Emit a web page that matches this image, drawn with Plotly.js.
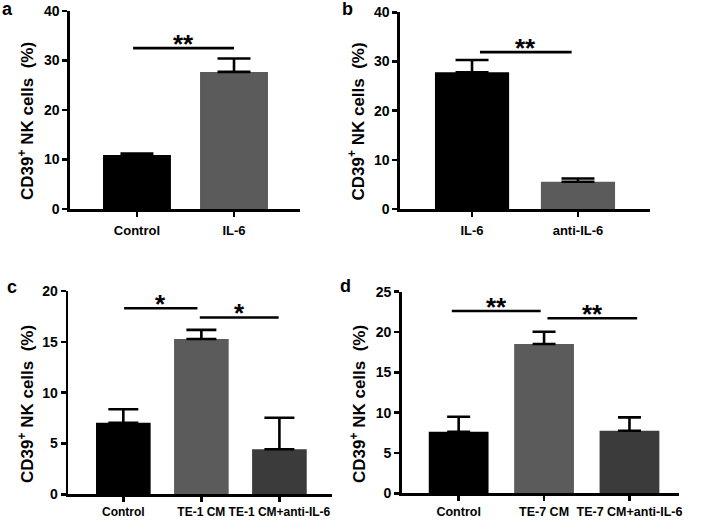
<!DOCTYPE html>
<html>
<head>
<meta charset="utf-8">
<script src="https://cdn.plot.ly/plotly-3.0.1.min.js"></script>
<style>html,body{margin:0;padding:0;background:#fff;}#chart{width:710px;height:521px;}</style>
</head>
<body>
<div id="chart"></div>
<script>
// ---- data ----
const catsA = ['Control', 'IL-6'];
const meanA = [10.9, 27.7];
const errA  = [0.3, 2.7];

const catsB = ['IL-6', 'anti-IL-6'];
const meanB = [27.8, 5.55];
const errB  = [2.5, 0.65];

const catsC = ['Control', 'TE-1 CM', 'TE-1 CM+anti-IL-6'];
const meanC = [7.04, 15.28, 4.43];
const errC  = [1.32, 0.9, 3.1];

const catsD = ['Control', 'TE-7 CM', 'TE-7 CM+anti-IL-6'];
const meanD = [7.64, 18.51, 7.76];
const errD  = [1.86, 1.53, 1.66];

// significance brackets: [fromIndex, toIndex, level, label]
const sigA = [[-0.04, 1.0, 32.5, '**']];
const sigB = [[0.075, 0.94, 31.9, '**']];
const sigC = [[0.01, 0.95, 18.3, '*'], [0.98, 1.99, 17.4, '*']];
const sigD = [[-0.08, 0.96, 22.6, '**'], [1.04, 2.09, 21.7, '**']];

const yTitle = 'CD39<sup>+</sup> NK cells\u00a0\u00a0(%)';
const panelLabels = ['a', 'b', 'c', 'd'];

// ---- styling ----
const FONT = 'Liberation Sans, Arial, sans-serif';
const c2 = ['#000000', '#5b5b5b'];
const c3 = ['#000000', '#5b5b5b', '#3b3b3b'];

function barTrace(cats, vals, errs, colors, ax, capw) {
  return {
    type: 'bar', x: cats, y: vals,
    xaxis: 'x' + ax, yaxis: 'y' + ax,
    marker: {color: colors, line: {width: 0}},
    width: 0.7,
    error_y: {type: 'data', symmetric: false, array: errs, arrayminus: errs.map(() => 0),
              color: '#000', thickness: 2.6, width: capw},
    hoverinfo: 'skip', showlegend: false
  };
}

const data = [
  barTrace(catsA, meanA, errA, c2, '', 16.5),
  barTrace(catsB, meanB, errB, c2, '2', 16.5),
  barTrace(catsC, meanC, errC, c3, '3', 15),
  barTrace(catsD, meanD, errD, c3, '4', 11.5)
];

const W = 710, H = 521;
function xd(l, r) { return [l / W, r / W]; }
function yd(bottom, top) { return [1 - bottom / H, 1 - top / H]; }

function xax(dom, range, anchor, fs, standoff) {
  return {domain: dom, range: range, type: 'category', anchor: anchor, tickangle: 0,
    showline: true, linewidth: 2.6, linecolor: '#000', ticks: 'outside', ticklen: 5,
    tickwidth: 2.5, tickcolor: '#000', showgrid: false, zeroline: false, fixedrange: true,
    ticklabelstandoff: standoff,
    tickfont: {family: FONT, size: fs, color: '#000', weight: 'bold'}};
}
function yax(dom, range, dtick, anchor) {
  return {domain: dom, range: range, dtick: dtick, anchor: anchor,
    showline: true, linewidth: 2.6, linecolor: '#000', ticks: 'outside', ticklen: 5,
    tickwidth: 2.5, tickcolor: '#000', showgrid: false, zeroline: false, fixedrange: true,
    tickfont: {family: FONT, size: 14, color: '#000', weight: 'bold'}};
}

const layout = {
  width: W, height: H,
  margin: {l: 0, r: 0, t: 0, b: 0},
  paper_bgcolor: '#fff', plot_bgcolor: '#fff',
  font: {family: FONT, color: '#000'},
  bargap: 0.3,
  xaxis:  xax(xd(70, 300),    [-0.69, 1.68], 'y', 13, 3),
  yaxis:  yax(yd(209, 11),    [0, 40], 10, 'x'),
  xaxis2: xax(xd(400, 650),   [-0.68, 1.68], 'y2', 13, 3),
  yaxis2: yax(yd(209, 12.3),  [0, 40], 10, 'x2'),
  xaxis3: xax(xd(68.3, 331.7),[-0.705, 2.67], 'y3', 12, 0),
  yaxis3: yax(yd(494.3, 291), [0, 20], 5, 'x3'),
  xaxis4: xax(xd(401.7, 679), [-0.667, 2.58], 'y4', 12.5, 0),
  yaxis4: yax(yd(493.3, 291.7),[0, 25], 5, 'x4'),
  shapes: [],
  annotations: []
};

const sigs = [sigA, sigB, sigC, sigD];
const axs = ['', '2', '3', '4'];
sigs.forEach((list, i) => {
  list.forEach(s => {
    layout.shapes.push({type: 'line', xref: 'x' + axs[i], yref: 'y' + axs[i],
      x0: s[0], x1: s[1], y0: s[2], y1: s[2], line: {color: '#000', width: 2.6}});
    layout.annotations.push({xref: 'x' + axs[i], yref: 'y' + axs[i], x: (s[0] + s[1]) / 2, y: s[2],
      text: s[3], showarrow: false, yanchor: 'bottom', yshift: -13,
      font: {family: FONT, size: 26, color: '#000', weight: 'bold'}});
  });
});

// y-axis titles (as rotated text beside each axis)
const titlePos = [[25.5, 121.5], [356, 121.5], [26, 404], [358, 404]];
titlePos.forEach(p => {
  layout.annotations.push({xref: 'paper', yref: 'paper', x: p[0] / W, y: 1 - p[1] / H,
    text: yTitle, textangle: -90, showarrow: false, xanchor: 'center', yanchor: 'middle',
    font: {family: FONT, size: 17, color: '#000', weight: 'bold'}});
});

const labelPos = [[7, 9], [347, 9], [12, 287], [345, 286]];
labelPos.forEach((p, i) => {
  layout.annotations.push({xref: 'paper', yref: 'paper', x: p[0] / W, y: 1 - p[1] / H,
    text: panelLabels[i], showarrow: false, xanchor: 'center', yanchor: 'middle',
    font: {family: FONT, size: 18, color: '#000', weight: 'bold'}});
});

Plotly.newPlot('chart', data, layout, {staticPlot: true, displayModeBar: false});
</script>
</body>
</html>
